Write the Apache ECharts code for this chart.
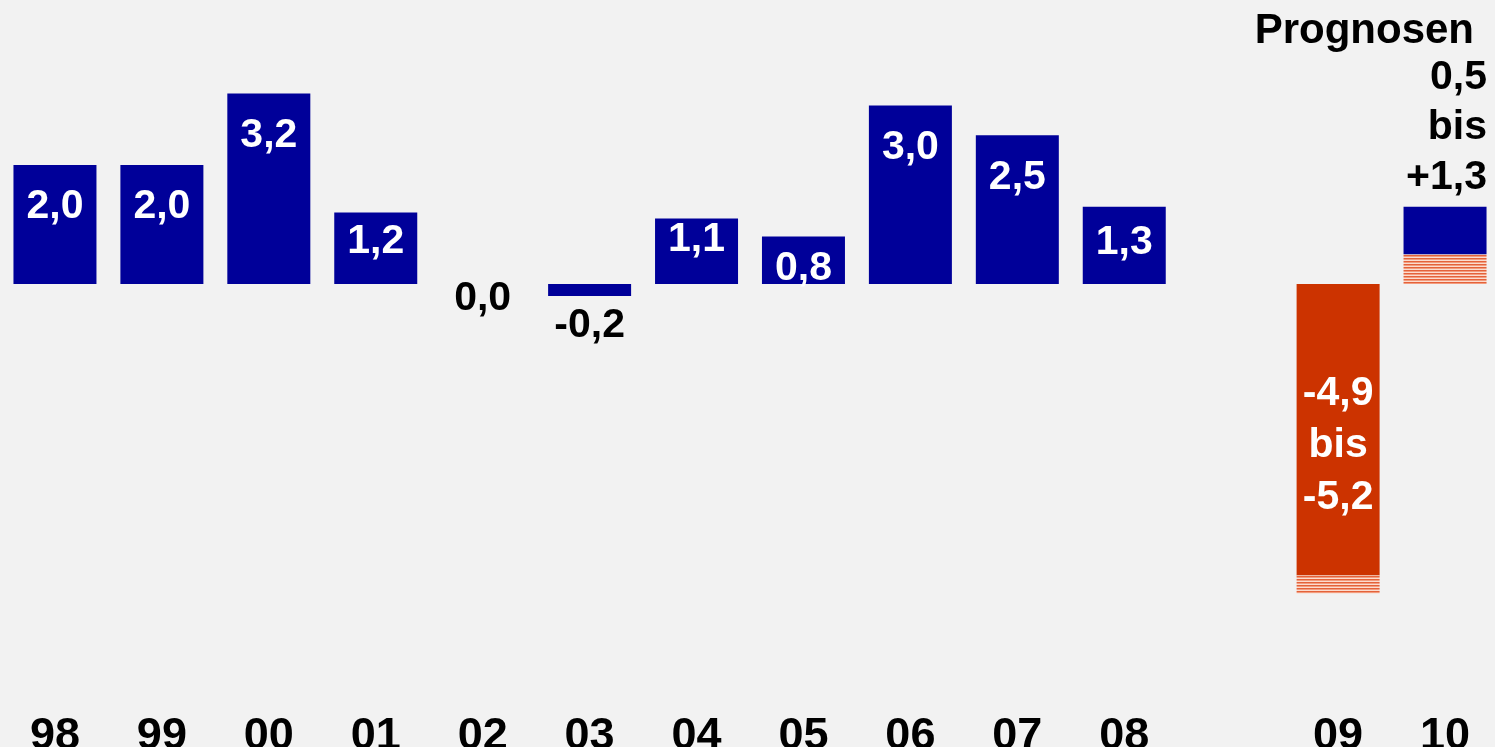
<!DOCTYPE html>
<html>
<head>
<meta charset="utf-8">
<script src="https://cdn.jsdelivr.net/npm/echarts@6/dist/echarts.min.js"></script>
<style>
html,body{margin:0;padding:0;background:#f2f2f2;}
#chart{width:1495px;height:747px;}
</style>
</head>
<body>
<div id="chart"></div>
<script>
// ---- data ----
const categories = ['98','99','00','01','02','03','04','05','06','07','08','','09','10'];
const actual = [2.0, 2.0, 3.2, 1.2, 0.0, -0.2, 1.1, 0.8, 3.0, 2.5, 1.3, null, null, null];
const forecastFrom = [null, null, null, null, null, null, null, null, null, null, null, null, -4.9, 0.5];
const forecastTo   = [null, null, null, null, null, null, null, null, null, null, null, null, -5.2, 1.3];
const titleText = 'Prognosen';

// ---- styles ----
const BLUE = '#000099';
const ORANGE = '#cc3300';
const FONT = '"Liberation Sans", Arial, sans-serif';
// label distance (px) from bar edge for the value labels
const labelDist = [21, 21, 22, 9, -6, 9, 1, 12, 22, 22, 16, 0, 0, 0];

function fmt(v, plus) {
  const s = Math.abs(v).toFixed(1).replace('.', ',');
  if (v < 0) return '-' + s;
  return (plus ? '+' : '') + s;
}

// stripe pattern
const pc = document.createElement('canvas');
pc.width = 4; pc.height = 3;
const pctx = pc.getContext('2d');
pctx.fillStyle = '#e4623a'; pctx.fillRect(0, 0, 4, 1);
pctx.fillStyle = '#f29c7e'; pctx.fillRect(0, 1, 4, 1);
pctx.fillStyle = '#fbdccf'; pctx.fillRect(0, 2, 4, 1);
const stripe = { image: pc, repeat: 'repeat' };

const hatchPos = [], mainData = [], hatchNeg = [];
categories.forEach((c, i) => {
  const a = actual[i], f = forecastFrom[i], t = forecastTo[i];
  if (a !== null) {
    const inside = a > 0;
    mainData.push({
      value: a,
      itemStyle: { color: BLUE },
      label: {
        show: true,
        position: inside ? 'insideTop' : 'bottom',
        distance: labelDist[i],
        color: inside ? '#ffffff' : '#000000',
        formatter: fmt(a)
      }
    });
    hatchPos.push(null); hatchNeg.push(null);
  } else if (f !== null) {
    if (f < 0) {
      mainData.push({
        value: f,
        itemStyle: { color: ORANGE },
        label: {
          show: true, position: 'inside', offset: [0, 16],
          color: '#ffffff', lineHeight: 52,
          formatter: fmt(f) + '\nbis\n' + fmt(t)
        }
      });
      hatchPos.push(null);
      hatchNeg.push(+(t - f).toFixed(2));
    } else {
      hatchPos.push(f);
      mainData.push({
        value: +(t - f).toFixed(2),
        itemStyle: { color: BLUE },
        label: {
          show: true, position: 'top', align: 'right', offset: [42, 0],
          distance: 4, color: '#000000', lineHeight: 50,
          formatter: fmt(f) + '\nbis\n' + fmt(t, true)
        }
      });
      hatchNeg.push(null);
    }
  } else {
    mainData.push(null); hatchPos.push(null); hatchNeg.push(null);
  }
});

const chart = echarts.init(document.getElementById('chart'), null, { renderer: 'canvas' });
const barCommon = { type: 'bar', stack: 'total', barWidth: 83, animation: false };
chart.setOption({
  backgroundColor: '#f2f2f2',
  animation: false,
  textStyle: { fontFamily: FONT },
  title: {
    text: titleText, right: 16, top: 5,
    textStyle: { fontFamily: FONT, fontWeight: 'bold', fontSize: 42, color: '#000' }
  },
  grid: { left: 1.5, width: 1497, top: 46, height: 654.5, containLabel: false, outerBoundsMode: 'none' },
  xAxis: {
    type: 'category', data: categories,
    axisLine: { show: false }, axisTick: { show: false },
    axisLabel: { fontFamily: FONT, fontWeight: 'bold', fontSize: 45, color: '#000', margin: 14, interval: 0 }
  },
  yAxis: {
    type: 'value', min: -7, max: 4, show: false,
    splitLine: { show: false }
  },
  series: [
    Object.assign({}, barCommon, { name: 'hatchPos', data: hatchPos, itemStyle: { color: stripe } }),
    Object.assign({}, barCommon, {
      name: 'main', data: mainData,
      label: { fontFamily: FONT, fontWeight: 'bold', fontSize: 41 }
    }),
    Object.assign({}, barCommon, { name: 'hatchNeg', data: hatchNeg, itemStyle: { color: stripe } })
  ]
});
</script>
</body>
</html>
